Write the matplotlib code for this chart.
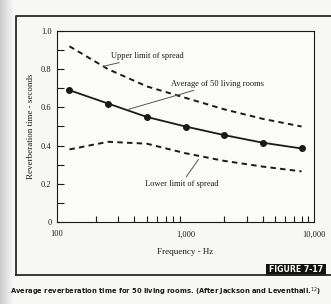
import matplotlib
matplotlib.use("Agg")
import matplotlib.pyplot as plt
from matplotlib.patches import Rectangle
from matplotlib.lines import Line2D
from matplotlib.ticker import FixedLocator, MultipleLocator

freqs = [125, 250, 500, 1000, 2000, 4000, 8000]
average = [0.69, 0.62, 0.55, 0.50, 0.455, 0.415, 0.385]
upper = [0.92, 0.80, 0.71, 0.65, 0.59, 0.54, 0.50]
lower = [0.38, 0.42, 0.41, 0.36, 0.32, 0.29, 0.265]

xtick_vals = [100, 1000, 10000]
xtick_labels = ["100", "1,000", "10,000"]
xminor_vals = [200, 300, 400, 500, 600, 700, 800, 900, 1000,
               2000, 3000, 4000, 5000, 6000, 7000, 8000, 9000]
ytick_vals = [0, 0.2, 0.4, 0.6, 0.8, 1.0]
ytick_labels = ["0", "0.2", "0.4", "0.6", "0.8", "1.0"]

serif = "Liberation Serif"
ink = "#1a1a1a"

fig = plt.figure(figsize=(3.31, 3.04), dpi=100)
fig.patch.set_facecolor("#f7f7f5")

# page-edge shadow on the left
for i in range(13):
    g = 0.80 + i * 0.013
    fig.add_artist(Rectangle((i / 331, 0), 1 / 331, 1, transform=fig.transFigure,
                             facecolor=(g, g, g), edgecolor="none", zorder=0))

# frame around figure
fig.add_artist(Line2D([16 / 331, 16 / 331, 1.0], [1 - 275 / 304, 1 - 16 / 304, 1 - 16 / 304],
                      transform=fig.transFigure, color="#2a2a2a", lw=1.3))
fig.add_artist(Line2D([16 / 331, 1.0], [1 - 275 / 304, 1 - 275 / 304],
                      transform=fig.transFigure, color="#2a2a2a", lw=1.3))
fig.add_artist(Rectangle((266 / 331, 1 - 276 / 304), 60 / 331, 12 / 304,
                         transform=fig.transFigure, facecolor="#111111", edgecolor="none"))
fig.text(296 / 331, 1 - 270 / 304, "FIGURE 7-17", color="white", fontsize=5.6,
         fontweight="bold", family="DejaVu Sans", ha="center", va="center")
fig.text(10 / 331, 1 - 292 / 304,
         "Average reverberation time for 50 living rooms. (After Jackson and Leventhall.$^{12}$)",
         fontsize=4.85, fontweight="bold", family="DejaVu Sans", color=ink,
         ha="left", va="center")

ax = fig.add_axes([57 / 331, 1 - 222 / 304, 257 / 331, 191 / 304])
ax.set_facecolor("#fbfbfa")
ax.set_xscale("log")
ax.set_xlim(100, 10000)
ax.set_ylim(0, 1.0)

ax.plot(freqs, upper, color=ink, lw=1.4, ls=(0, (2.8, 2.2)))
ax.plot(freqs, lower, color=ink, lw=1.4, ls=(0, (2.8, 2.2)))
ax.plot(freqs, average, color=ink, lw=1.3, marker="o", ms=4)

ax.xaxis.set_major_locator(FixedLocator(xtick_vals))
ax.set_xticklabels(xtick_labels)
ax.xaxis.set_minor_locator(FixedLocator(xminor_vals))
ax.set_yticks(ytick_vals)
ax.set_yticklabels(ytick_labels)
ax.yaxis.set_minor_locator(MultipleLocator(0.1))

ax.tick_params(axis="x", which="major", length=0, pad=6, labelsize=6)
ax.tick_params(axis="x", which="minor", direction="in", length=4, width=0.8, color=ink)
ax.tick_params(axis="y", which="both", direction="in", length=5, width=0.8, color=ink,
               labelsize=6, pad=4)
for lab in ax.get_xticklabels() + ax.get_yticklabels():
    lab.set_family(serif)
    lab.set_color(ink)
for s in ax.spines.values():
    s.set_linewidth(0.8)
    s.set_color(ink)

ax.set_xlabel("Frequency - Hz", family=serif, fontsize=6.5, color=ink, labelpad=7)
ax.set_ylabel("Reverberation time - seconds", family=serif, fontsize=6.5, color=ink,
              labelpad=4)

ax.annotate("Upper limit of spread", xy=(230, 0.815), xytext=(265, 0.87),
            fontsize=6, family=serif, color=ink, va="center",
            arrowprops=dict(arrowstyle="-", color="#555555", lw=0.7, shrinkA=0, shrinkB=0))
ax.annotate("Average of 50 living rooms", xy=(360, 0.59), xytext=(770, 0.725),
            fontsize=6, family=serif, color=ink, va="center",
            arrowprops=dict(arrowstyle="-", color="#555555", lw=0.7, shrinkA=0, shrinkB=0))
ax.annotate("Lower limit of spread", xy=(1300, 0.34), xytext=(480, 0.2),
            fontsize=6, family=serif, color=ink, va="center",
            arrowprops=dict(arrowstyle="-", color="#555555", lw=0.7, shrinkA=0, shrinkB=2))

fig.savefig("out.png", dpi=100, facecolor=fig.get_facecolor())
